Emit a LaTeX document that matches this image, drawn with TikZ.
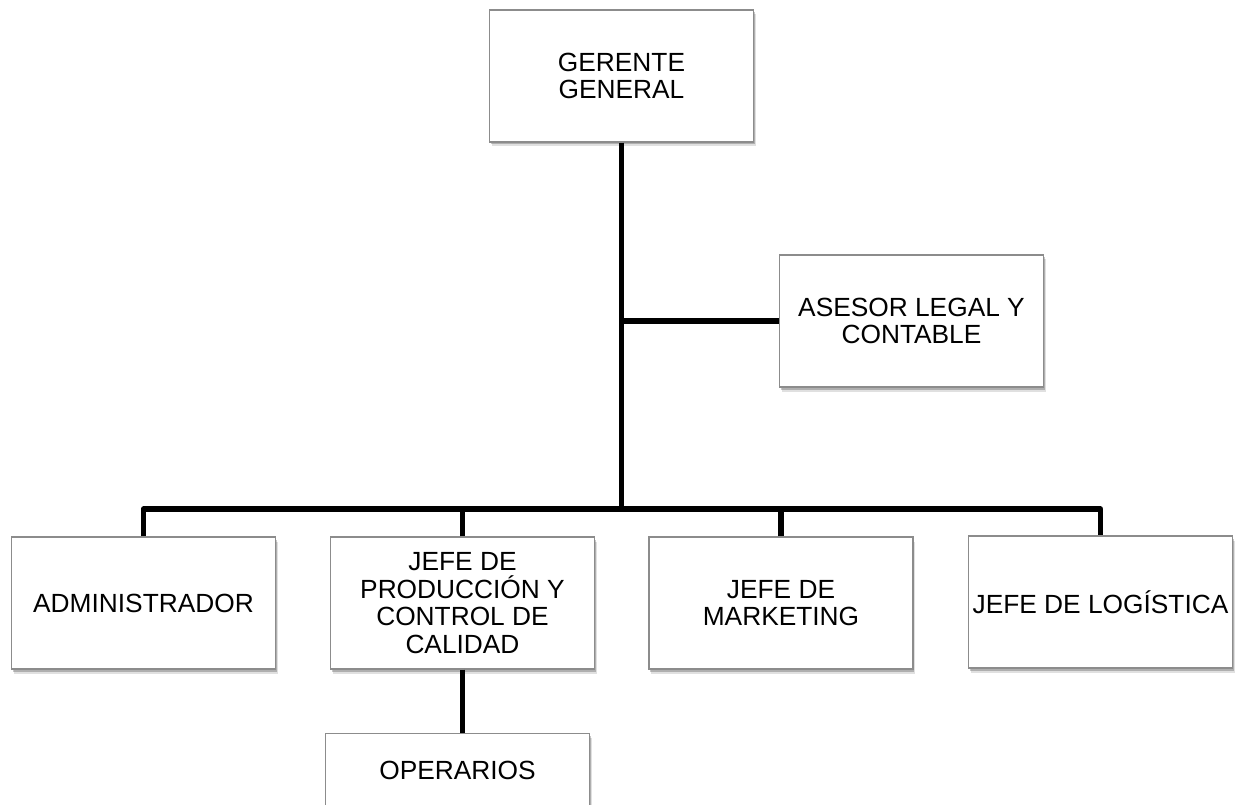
\documentclass[tikz,border=0pt]{standalone}
\usepackage{fontspec}
\setmainfont{Liberation Sans}
\usetikzlibrary{shadows}
\begin{document}
\begin{tikzpicture}[x=1pt,y=-1pt,
  orgbox/.style={draw=black!45, line width=1.2pt, fill=white,
    minimum width=264pt, minimum height=132pt, inner sep=0pt,
    align=center, font=\fontsize{26.3}{27.4}\selectfont,
    drop shadow={shadow xshift=2pt, shadow yshift=-4.5pt, fill=black, opacity=0.12},
    drop shadow={shadow xshift=1pt, shadow yshift=-2.5pt, fill=black, opacity=0.22}},
  plaintext/.style={inner sep=0pt, font=\fontsize{26.3}{27.4}\selectfont},
  conn/.style={line width=5.5pt, black}]
\useasboundingbox (0,0) rectangle (1243,805);
\clip (0,0) rectangle (1243,805);

% boxes
\node[orgbox] (gg) at (621.5,76) {GERENTE\\GENERAL};
\node[orgbox] (as) at (911.5,321) {ASESOR LEGAL Y\\CONTABLE};
\node[orgbox] (admin) at (143.5,603) {ADMINISTRADOR};
\node[orgbox] (prod) at (462.5,603) {JEFE DE\\PRODUCCIÓN Y\\CONTROL DE\\CALIDAD};
\node[orgbox] (mkt) at (781,603) {JEFE DE\\MARKETING};
\node[orgbox] (log) at (1100.5,602) {JEFE DE LOGÍSTICA};
\node[orgbox, anchor=north] (oper) at (457.5,733) {};
\node[plaintext] (opertext) at (457.5,770) {OPERARIOS};

% connectors
\coordinate (bus) at (621.5,509);
\draw[conn] (gg.south) -- (bus);
\draw[conn] (gg.south |- as.west) -- (as.west);
\draw[conn, line join=round] (admin.north) |- (bus) -| (log.north);
\draw[conn] (prod.north) -- (prod.north |- bus);
\draw[conn] (mkt.north) -- (mkt.north |- bus);
\draw[conn] (prod.south) -- (prod.south |- oper.north);
\end{tikzpicture}
\end{document}
